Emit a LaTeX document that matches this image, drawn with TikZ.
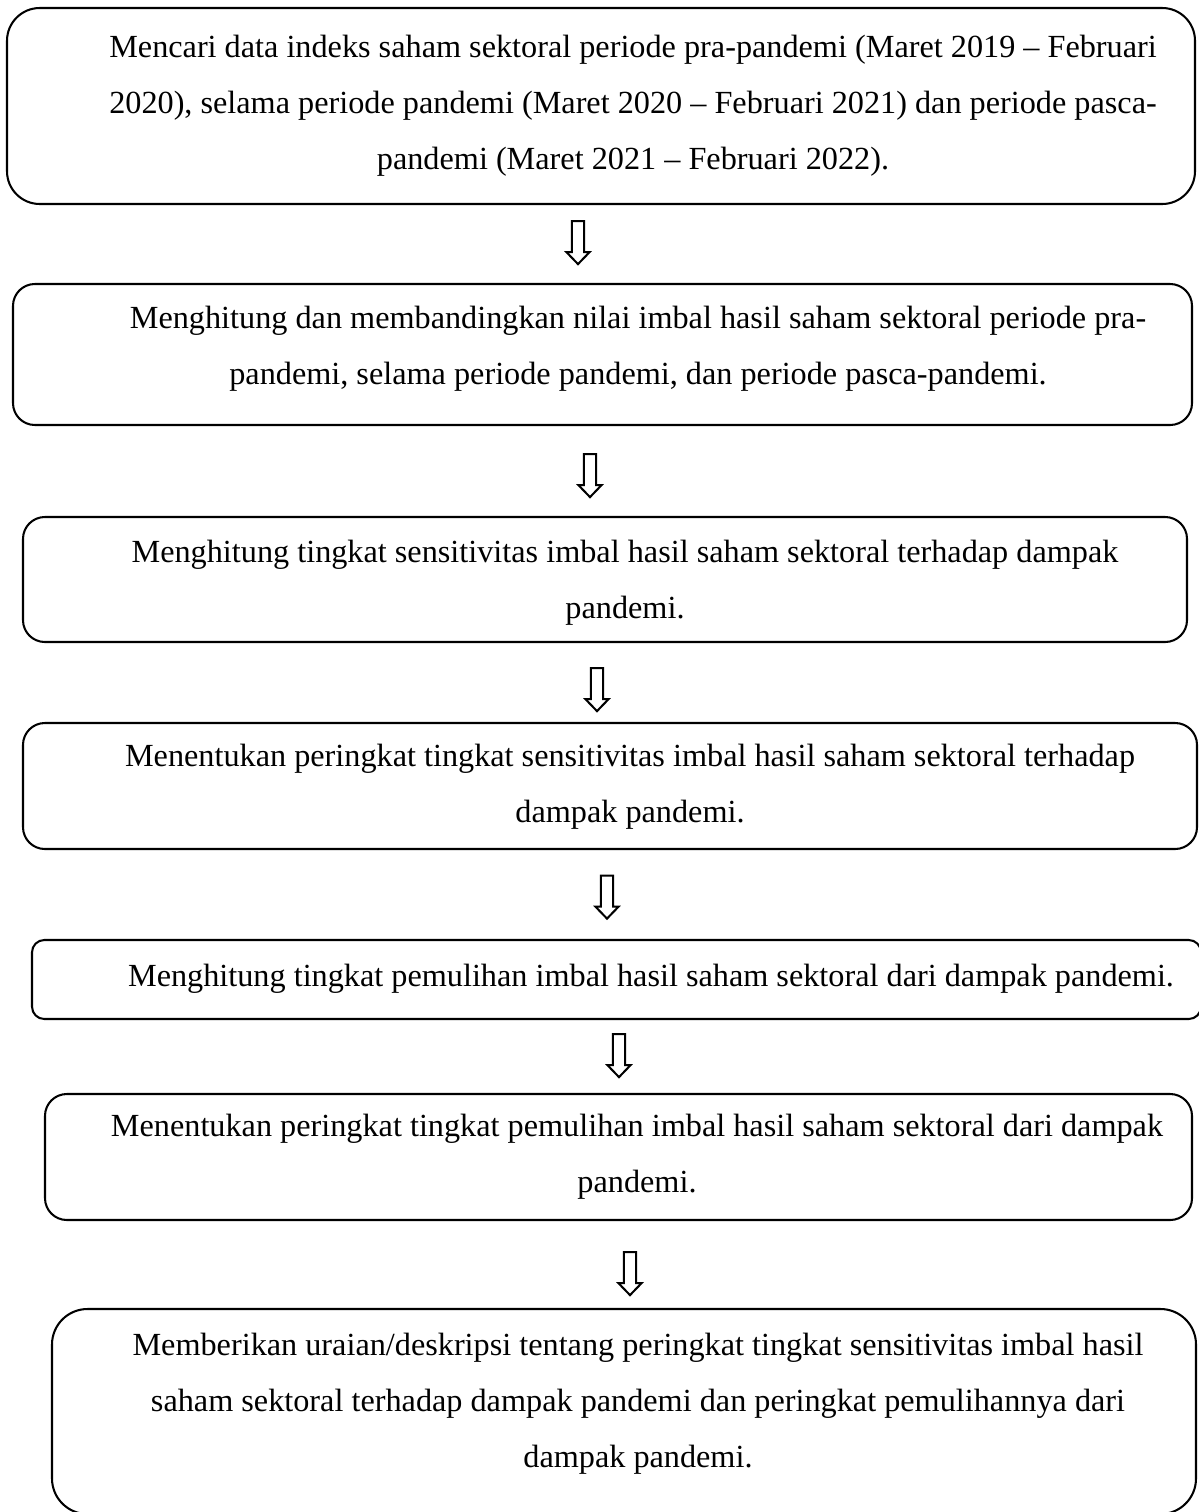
\documentclass[tikz,border=0pt]{standalone}
\usepackage{fontspec}
\setmainfont{Liberation Serif}
\usetikzlibrary{shapes.arrows}

\tikzset{every picture/.style={line width=0.75pt}}
\tikzset{
	steptext/.style={inner sep=0.75pt, align=center, font=\fontsize{11.8pt}{20.5pt}\selectfont},
	downarrow/.style={single arrow, draw, rotate=-90, inner sep=1.85pt, minimum height=15.7pt, single arrow head extend=2pt, single arrow tip angle=88},
}

\begin{document}
\begin{tikzpicture}[x=0.366pt,y=0.366pt,yscale=-1,xscale=1]
	\useasboundingbox (0,0) rectangle (1198,1512);
	
	%Rounded Rect [step 1]
	\draw [rounded corners=12pt] (7,8) rectangle (1195,204);
	%Rounded Rect [step 2]
	\draw [rounded corners=8pt] (13,284) rectangle (1192,425);
	%Rounded Rect [step 3]
	\draw [rounded corners=8pt] (23,517) rectangle (1187,642);
	%Rounded Rect [step 4]
	\draw [rounded corners=8pt] (23,723) rectangle (1197,849);
	%Rounded Rect [step 5]
	\draw [rounded corners=4.5pt] (32,940) rectangle (1201,1019);
	%Rounded Rect [step 6]
	\draw [rounded corners=8pt] (45,1094) rectangle (1192,1220);
	%Rounded Rect [step 7]
	\draw [rounded corners=13pt] (52,1309) rectangle (1196,1514);
	
	% Text Node
	\node [steptext] (cari) at (633,106) {Mencari data indeks saham sektoral periode pra-pandemi (Maret 2019 -- Februari\\ 2020), selama periode pandemi (Maret 2020 -- Februari 2021) dan periode pasca-\\ pandemi (Maret 2021 -- Februari 2022).};
	% Text Node
	\node [steptext] (banding) at (638,349) {Menghitung dan membandingkan nilai imbal hasil saham sektoral periode pra-\\ pandemi, selama periode pandemi, dan periode pasca-pandemi.};
	% Text Node
	\node [steptext] (sensitif) at (625,583) {Menghitung tingkat sensitivitas imbal hasil saham sektoral terhadap dampak\\ pandemi.};
	% Text Node
	\node [steptext] (peringkatsens) at (630,787) {Menentukan peringkat tingkat sensitivitas imbal hasil saham sektoral terhadap\\ dampak pandemi.};
	% Text Node
	\node [steptext] (pulih) at (651,979) {Menghitung tingkat pemulihan imbal hasil saham sektoral dari dampak pandemi.};
	% Text Node
	\node [steptext] (peringkatpulih) at (637,1157) {Menentukan peringkat tingkat pemulihan imbal hasil saham sektoral dari dampak\\ pandemi.};
	% Text Node
	\node [steptext] (uraian) at (638,1404) {Memberikan uraian/deskripsi tentang peringkat tingkat sensitivitas imbal hasil\\ saham sektoral terhadap dampak pandemi dan peringkat pemulihannya dari\\ dampak pandemi.};
	
	% Block arrows
	\foreach \n/\x/\y in {1/578/239.5, 2/590/472.5, 3/597/686.5, 4/607/894, 5/619/1052.5, 6/630/1270.5}
		\node [downarrow] (arrow\n) at (\x,\y) {};
	
\end{tikzpicture}
\end{document}
